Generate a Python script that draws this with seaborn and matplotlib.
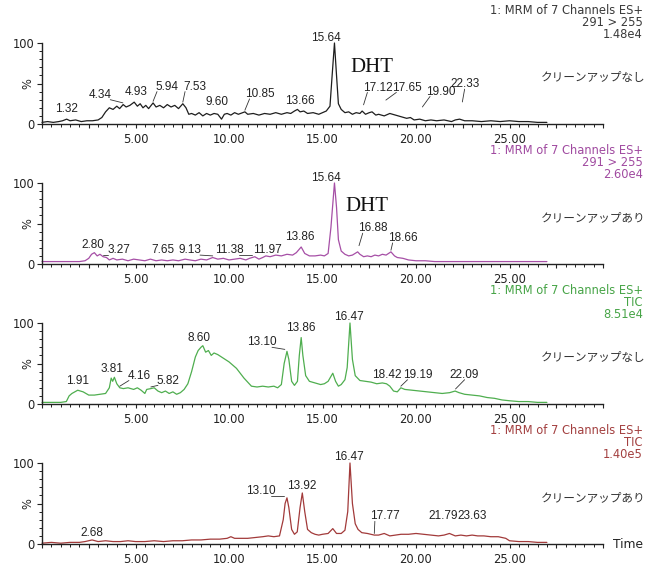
import numpy as np
import pandas as pd
import matplotlib
matplotlib.use("Agg")
import matplotlib.pyplot as plt
import seaborn as sns
from matplotlib.ticker import MultipleLocator, FixedLocator, FuncFormatter

# ---- chromatogram data: retention time (min) and relative intensity (%) ----
t_dht_raw = [0.0, 0.3, 0.6, 0.9, 1.1, 1.32, 1.5, 1.8, 2.1, 2.4, 2.7, 3.0, 3.2, 3.4, 3.6,
             3.8, 4.0, 4.15, 4.34, 4.5, 4.7, 4.93, 5.1, 5.25, 5.4, 5.55, 5.7, 5.94, 6.1,
             6.3, 6.5, 6.7, 6.9, 7.1, 7.3, 7.53, 7.7, 7.85, 8.0, 8.2, 8.4, 8.6, 8.8, 9.0,
             9.2, 9.4, 9.6, 9.75, 9.9, 10.1, 10.3, 10.5, 10.85, 11.0, 11.3, 11.6, 11.9,
             12.2, 12.5, 12.8, 13.1, 13.3, 13.5, 13.66, 13.8, 14.0, 14.2, 14.5, 14.8, 15.0,
             15.2, 15.4, 15.5, 15.64, 15.75, 15.85, 16.0, 16.2, 16.4, 16.6, 16.8, 17.0,
             17.12, 17.3, 17.5, 17.65, 17.85, 18.0, 18.3, 18.6, 18.9, 19.2, 19.5, 19.7,
             19.9, 20.2, 20.5, 20.8, 21.1, 21.5, 21.9, 22.1, 22.33, 22.6, 23.0, 23.5, 24.0,
             24.5, 25.0, 25.5, 26.0, 26.5, 27.0]
i_dht_raw = [2, 3, 2, 3, 4, 6, 4, 5, 3, 4, 4, 5, 8, 15, 20,
             18, 22, 19, 24, 21, 23, 27, 22, 25, 20, 23, 19, 26, 21,
             23, 20, 24, 21, 23, 19, 25, 20, 12, 13, 11, 14, 10, 13, 11,
             13, 12, 6, 12, 13, 11, 14, 12, 15, 12, 13, 11, 13,
             12, 14, 12, 14, 13, 16, 18, 15, 16, 13, 14, 12, 14,
             16, 22, 55, 100, 60, 25, 18, 14, 15, 12, 14, 13,
             16, 12, 14, 15, 11, 12, 10, 13, 11, 9, 7, 8,
             5, 6, 4, 5, 4, 5, 3, 5, 6, 4, 4, 3, 4,
             3, 4, 3, 3, 2, 2]
peaks_dht_raw = [1.32, 4.34, 4.93, 5.94, 7.53, 9.60, 10.85, 13.66, 15.64, 17.12, 17.65,
                 19.90, 22.33]

t_dht_clean = [0.0, 0.5, 1.0, 1.5, 2.0, 2.3, 2.5, 2.65, 2.8, 2.95, 3.1, 3.27, 3.45, 3.6,
               3.8, 4.0, 4.3, 4.6, 4.9, 5.2, 5.5, 5.8, 6.1, 6.4, 6.7, 7.0, 7.3, 7.65, 7.9,
               8.2, 8.5, 8.8, 9.13, 9.4, 9.7, 10.0, 10.3, 10.6, 10.9, 11.1, 11.38, 11.6,
               11.8, 11.97, 12.2, 12.5, 12.8, 13.1, 13.4, 13.6, 13.86, 14.05, 14.3, 14.6,
               14.9, 15.1, 15.3, 15.45, 15.64, 15.75, 15.85, 16.0, 16.2, 16.4, 16.6, 16.88,
               17.0, 17.2, 17.4, 17.6, 17.8, 18.0, 18.2, 18.4, 18.66, 18.85, 19.0, 19.3,
               19.6, 20.0, 20.5, 21.0, 22.0, 23.0, 24.0, 25.0, 26.0, 27.0]
i_dht_clean = [3, 3, 3, 3, 3, 4, 7, 12, 14, 10, 12, 9, 8, 5,
               7, 5, 6, 4, 6, 5, 4, 6, 4, 5, 4, 5, 4, 6, 5,
               4, 6, 5, 8, 6, 7, 5, 6, 7, 5, 7, 9, 6,
               8, 10, 9, 11, 10, 12, 11, 14, 21, 13, 10, 10,
               11, 10, 13, 45, 100, 70, 30, 16, 12, 10, 11, 15,
               12, 9, 10, 9, 11, 10, 12, 11, 15, 10, 8, 7,
               5, 4, 4, 3, 3, 3, 3, 3, 3, 3]
peaks_dht_clean = [2.80, 3.27, 7.65, 9.13, 11.38, 11.97, 13.86, 15.64, 16.88, 18.66]

t_tic_raw = [0.0, 0.5, 1.0, 1.3, 1.45, 1.6, 1.91, 2.2, 2.5, 2.8, 3.1, 3.4, 3.6, 3.7, 3.78,
             3.87, 4.0, 4.16, 4.35, 4.6, 4.9, 5.1, 5.3, 5.5, 5.6, 5.82, 6.0, 6.2, 6.4, 6.6,
             6.8, 7.0, 7.2, 7.4, 7.6, 7.8, 8.0, 8.2, 8.35, 8.5, 8.6, 8.75, 8.9, 9.05, 9.2,
             9.4, 9.6, 9.8, 10.0, 10.2, 10.4, 10.6, 10.8, 11.0, 11.2, 11.5, 11.8, 12.1,
             12.4, 12.6, 12.8, 12.95, 13.10, 13.2, 13.35, 13.5, 13.66, 13.76, 13.86, 13.95,
             14.1, 14.3, 14.6, 14.9, 15.1, 15.3, 15.45, 15.55, 15.7, 15.85, 16.0, 16.2,
             16.32, 16.47, 16.6, 16.75, 17.0, 17.3, 17.6, 17.9, 18.2, 18.42, 18.6, 18.8,
             19.0, 19.19, 19.4, 19.8, 20.2, 20.6, 21.0, 21.4, 21.8, 22.09, 22.3, 22.6,
             23.0, 23.4, 23.8, 24.2, 24.6, 25.0, 25.5, 26.0, 26.5, 27.0]
i_tic_raw = [2, 2, 2, 3, 10, 13, 17, 15, 11, 11, 12, 13, 20, 32, 28,
             33, 25, 20, 19, 20, 18, 20, 17, 13, 18, 19, 20, 16, 14, 16,
             13, 15, 12, 14, 18, 25, 40, 58, 66, 70, 72, 64, 66, 60, 63,
             61, 58, 55, 52, 48, 44, 38, 32, 27, 22, 21, 22, 21,
             22, 20, 24, 50, 65, 55, 28, 23, 28, 60, 82, 60,
             35, 28, 26, 24, 25, 28, 34, 38, 28, 22, 24, 30,
             45, 100, 55, 35, 29, 28, 27, 25, 26, 25, 22, 16,
             15, 20, 18, 17, 16, 15, 14, 13, 14, 16, 14, 12,
             11, 10, 8, 7, 5, 4, 3, 3, 2, 2]
peaks_tic_raw = [1.91, 3.81, 4.16, 5.82, 8.60, 13.10, 13.86, 16.47, 18.42, 19.19, 22.09]

t_tic_clean = [0.0, 0.5, 1.0, 1.5, 2.0, 2.3, 2.68, 3.0, 3.4, 3.8, 4.2, 4.6, 5.0, 5.5, 6.0,
               6.5, 7.0, 7.5, 8.0, 8.5, 9.0, 9.5, 9.9, 10.1, 10.3, 10.6, 11.0, 11.4, 11.8,
               12.1, 12.4, 12.7, 12.9, 13.0, 13.10, 13.2, 13.35, 13.5, 13.65, 13.8, 13.92,
               14.05, 14.2, 14.4, 14.6, 14.8, 15.0, 15.3, 15.55, 15.75, 16.0, 16.2, 16.35,
               16.47, 16.6, 16.75, 16.9, 17.1, 17.4, 17.77, 18.0, 18.3, 18.6, 18.9, 19.2,
               19.6, 20.0, 20.4, 20.8, 21.2, 21.5, 21.79, 22.1, 22.4, 22.7, 23.0, 23.3,
               23.63, 24.0, 24.4, 24.8, 25.0, 25.5, 26.0, 26.5, 27.0]
i_tic_clean = [1, 2, 1, 2, 2, 3, 5, 3, 4, 3, 3, 4, 3, 3, 4,
               3, 4, 4, 5, 5, 6, 6, 7, 9, 7, 7, 7, 8, 9,
               10, 9, 10, 30, 50, 57, 45, 18, 12, 15, 45, 63,
               40, 18, 14, 12, 11, 12, 13, 19, 13, 13, 17, 40,
               100, 50, 25, 18, 14, 13, 11, 11, 13, 10, 11, 12,
               12, 13, 12, 11, 10, 11, 13, 10, 11, 10, 11, 10,
               10, 9, 9, 7, 4, 3, 3, 2, 2]
peaks_tic_clean = [2.68, 13.10, 13.92, 16.47, 17.77, 21.79, 23.63]

header_line1 = ["1: MRM of 7 Channels ES+"] * 4
header_line2 = ["291 > 255", "291 > 255", "TIC", "TIC"]
header_line3 = ["1.48e4", "2.60e4", "8.51e4", "1.40e5"]
conditions = ["クリーンアップなし", "クリーンアップあり", "クリーンアップなし", "クリーンアップあり"]
compound = ["DHT", "DHT", None, None]
x_tick_values = [5, 10, 15, 20, 25]

# ---- layout of peak labels: (label centre time, label centre %, leader) ----
label_layout = [
    [(1.3, 18, False), (3.1, 36, True), (5.05, 39, False), (6.7, 46, True), (8.2, 46, True),
     (9.35, 27, False), (11.65, 37, True), (13.8, 28, False), (15.2, 106, False),
     (17.95, 45, True), (19.5, 45, True), (21.3, 40, True), (22.6, 49, True)],
    [(2.7, 23, False), (4.1, 17, True), (6.45, 17, False), (7.9, 17, True), (10.0, 17, True),
     (12.05, 17, False), (13.8, 33, False), (15.2, 106, False), (17.7, 44, True),
     (19.3, 32, True)],
    [(1.9, 29, False), (3.75, 43, False), (5.2, 35, True), (6.75, 29, True), (8.4, 81, False),
     (11.75, 76, True), (13.85, 94, False), (16.4, 107, False), (18.45, 36, False),
     (20.1, 36, True), (22.6, 36, True)],
    [(2.65, 13, False), (11.7, 65, True), (13.9, 72, False), (16.4, 107, False),
     (18.35, 34, True), (21.45, 34, False), (23.0, 34, False)],
]

series = [
    (t_dht_raw, i_dht_raw, peaks_dht_raw),
    (t_dht_clean, i_dht_clean, peaks_dht_clean),
    (t_tic_raw, i_tic_raw, peaks_tic_raw),
    (t_tic_clean, i_tic_clean, peaks_tic_clean),
]
trace_colors = ["#1e1e1e", "#a64fa6", "#4fae4f", "#a23a3a"]
header_colors = ["#3a3a3a", "#a04aa0", "#47a447", "#a34040"]

sns.set_style("ticks")
plt.rcParams["font.family"] = ["DejaVu Sans", "Noto Sans CJK JP"]
plt.rcParams["axes.edgecolor"] = "#222222"

W, H = 653, 566
fig = plt.figure(figsize=(W / 100, H / 100), dpi=100)
fig.patch.set_facecolor("white")

X0, X1 = 42, 603         # pixel columns of 0 and 30 min
PANEL_STEP = 140
TOP0, BOT0 = 43, 124     # pixel rows of 100 % and 0 % in the first panel

label_font = dict(family=["Liberation Sans", "DejaVu Sans"], fontsize=8.5, color="#222222")


def fig_xy(px, py):
    return px / W, 1 - py / H


for k, (t, inten, peaks) in enumerate(series):
    top = TOP0 + PANEL_STEP * k
    bot = BOT0 + PANEL_STEP * k
    ax = fig.add_axes([X0 / W, 1 - bot / H, (X1 - X0) / W, (bot - top) / H])
    ax.patch.set_alpha(0)

    df = pd.DataFrame({"time": t, "intensity": inten})
    sns.lineplot(data=df, x="time", y="intensity", ax=ax, color=trace_colors[k],
                 linewidth=0.9, estimator=None, sort=False, legend=False)
    for ln in ax.lines:
        ln.set_clip_on(False)

    ax.set_xlim(0, 30)
    ax.set_ylim(0, 100)
    ax.set_xlabel("")
    ax.set_ylabel("")
    sns.despine(ax=ax)
    for side in ("left", "bottom"):
        ax.spines[side].set_linewidth(1.0)
        ax.spines[side].set_color("#222222")

    ax.xaxis.set_major_locator(MultipleLocator(2.5))
    ax.xaxis.set_minor_locator(MultipleLocator(0.5))
    ax.xaxis.set_major_formatter(FuncFormatter(
        lambda v, p: f"{v:.2f}" if any(abs(v - x) < 1e-6 for x in x_tick_values) else ""))
    ax.yaxis.set_major_locator(FixedLocator([0, 50, 100]))
    ax.yaxis.set_minor_locator(MultipleLocator(10))
    ax.set_yticklabels(["0", "%", "100"])
    ax.get_yticklabels()[1].set_rotation(90)

    ax.tick_params(axis="x", which="major", length=3.2, width=0.8, pad=3,
                   labelsize=8.3, colors="#222222")
    ax.tick_params(axis="x", which="minor", length=1.8, width=0.7, colors="#222222")
    ax.tick_params(axis="y", which="major", length=3.6, width=0.8, pad=2,
                   labelsize=8.3, colors="#222222")
    ax.tick_params(axis="y", which="minor", length=2.0, width=0.7, colors="#222222")

    # peak retention-time labels
    for pt, (lx, ly, leader) in zip(peaks, label_layout[k]):
        pv = float(np.interp(pt, t, inten))
        ax.text(lx, ly, f"{pt:.2f}", ha="center", va="center", clip_on=False, **label_font)
        if leader:
            dx = pt - lx
            sx = lx + (np.sign(dx) * 0.55 if abs(dx) > 0.55 else 0.0)
            a = ax.transData.transform((sx, ly - 6))
            b = ax.transData.transform((pt, pv + 2))
            d = np.hypot(*(b - a))
            if d > 13:
                b = a + (b - a) * 13 / d
            (ex, ey) = ax.transData.inverted().transform(b)
            ax.plot([sx, ex], [ly - 6, ey], color="#333333", linewidth=0.6, clip_on=False)

    # channel description, upper right
    for line, dy in ((header_line1[k], 11), (header_line2[k], 22.5), (header_line3[k], 34)):
        fig.text(*fig_xy(643, dy + PANEL_STEP * k), line, ha="right", va="center",
                 fontsize=8.3, color=header_colors[k], family="DejaVu Sans")
    fig.text(*fig_xy(645, 78 + PANEL_STEP * k), conditions[k], ha="right", va="center",
             fontsize=8.4, color="#333333", family=["Noto Sans CJK JP", "DejaVu Sans"])

    if compound[k]:
        fig.text(*fig_xy(350 - 5 * k, 67 + PANEL_STEP * k), compound[k], ha="left",
                 va="center", fontsize=15, color="#111111",
                 family=["Liberation Serif", "DejaVu Serif"])

fig.text(*fig_xy(613, 544), "Time", ha="left", va="center", fontsize=8.8,
         color="#222222", family="DejaVu Sans")

fig.savefig("out.png", dpi=100, facecolor="white")
